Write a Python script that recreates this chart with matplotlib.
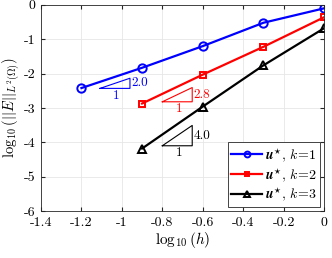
import numpy as np
import matplotlib
matplotlib.use('Agg')
import matplotlib.pyplot as plt

plt.rcParams['font.family'] = 'serif'
plt.rcParams['font.serif'] = ['cmr10']
plt.rcParams['mathtext.fontset'] = 'cm'
plt.rcParams['axes.unicode_minus'] = False
plt.rcParams['axes.formatter.use_mathtext'] = False

log_h = [-1.2, -0.9, -0.6, -0.3, 0.0]
err_k1 = [-2.42, -1.83, -1.20, -0.52, -0.10]
log_h23 = [-0.9, -0.6, -0.3, 0.0]
err_k2 = [-2.87, -2.03, -1.22, -0.36]
err_k3 = [-4.18, -2.96, -1.76, -0.68]

rates = ['2.0', '2.8', '4.0']
tri_x = [-1.108, -0.80, -0.80]      # left corner of slope triangles
tri_y = [-2.43, -2.82, -4.10]
tri_w = 0.148
colors = ['#0000ff', '#ff0000', '#000000']

fig = plt.figure(figsize=(3.32, 2.58), dpi=100)
ax = fig.add_axes([0.1235, 0.182, 0.8525, 0.799])

ax.plot(log_h, err_k1, '-o', color=colors[0], lw=1.6, ms=6, mfc='none', mew=1.4,
        label=r'$\boldsymbol{u}^{\star}$, $k\!=\!1$')
ax.plot(log_h23, err_k2, '-s', color=colors[1], lw=1.6, ms=5, mfc='none', mew=1.4,
        label=r'$\boldsymbol{u}^{\star}$, $k\!=\!2$')
ax.plot(log_h23, err_k3, '-^', color=colors[2], lw=1.6, ms=6, mfc='none', mew=1.4,
        label=r'$\boldsymbol{u}^{\star}$, $k\!=\!3$')

# slope triangles
for i in range(3):
    r = float(rates[i])
    x0, y0 = tri_x[i], tri_y[i]
    x1 = x0 + tri_w
    y1 = y0 + r * tri_w
    ax.plot([x0, x1, x1, x0], [y0, y0, y1, y0], color=colors[i], lw=0.8)
    ax.text(x1 + 0.008, (y0 + y1) / 2, rates[i], color=colors[i], fontsize=9.5,
            ha='left', va='center')
    ax.text(x0 + tri_w * 0.55, y0 - 0.04, '1', color=colors[i], fontsize=9.5,
            ha='center', va='top')

ax.set_xlim(-1.4, 0)
ax.set_ylim(-6, 0)
ax.set_xticks(np.arange(-1.4, 0.01, 0.2))
ax.set_xticklabels(['-1.4', '-1.2', '-1', '-0.8', '-0.6', '-0.4', '-0.2', '0'])
ax.set_yticks(range(-6, 1))
ax.set_yticklabels(['-6', '-5', '-4', '-3', '-2', '-1', '0'])
ax.tick_params(direction='in', top=True, right=True, labelsize=10, length=3,
               color='#262626', pad=4)
ax.grid(True, color='#e6e6e6', lw=0.6)
ax.set_axisbelow(True)
for s in ax.spines.values():
    s.set_color('#262626')
    s.set_linewidth(0.6)

ax.set_xlabel(r'$\log_{10}(h)$', fontsize=11, labelpad=1)
ax.set_ylabel(r'$\log_{10}(||E||_{L^2(\Omega)})$', fontsize=10.5, labelpad=1)

leg = ax.legend(loc='lower right', fontsize=10, fancybox=False, framealpha=1,
                edgecolor='#262626', handlelength=2.2, borderpad=0.25,
                labelspacing=0.15, handletextpad=0.2, borderaxespad=0.3,
                markerscale=0.7)
leg.get_frame().set_linewidth(0.6)

fig.savefig('out.png', dpi=100)
